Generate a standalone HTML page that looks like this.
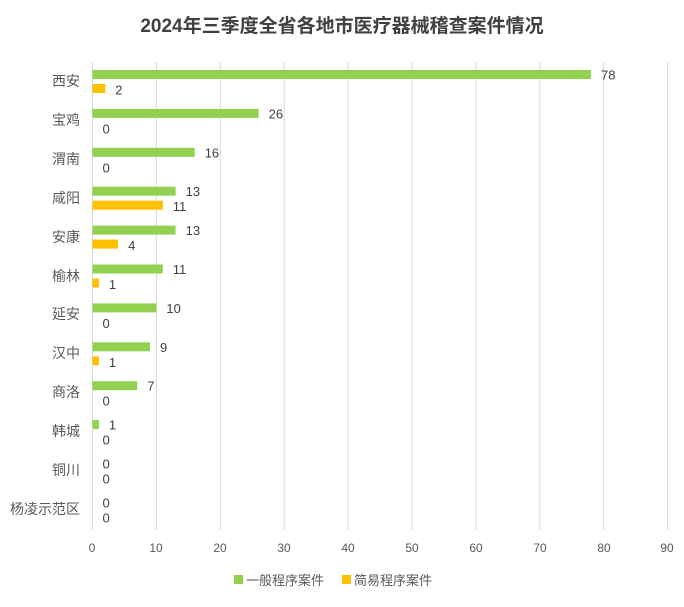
<!DOCTYPE html>
<html><head><meta charset="utf-8"><style>
body{margin:0;background:#fff;}
svg text{font-family:"Liberation Sans","Noto Sans CJK SC",sans-serif;}
</style></head><body>
<svg width="684" height="602" xmlns="http://www.w3.org/2000/svg">
<text x="342" y="32" text-anchor="middle" font-size="19" font-weight="bold" fill="#404040">2024年三季度全省各地市医疗器械稽查案件情况</text>
<g stroke="#d9d9d9" stroke-width="1">
<line x1="156.4" y1="62" x2="156.4" y2="530"/><line x1="220.3" y1="62" x2="220.3" y2="530"/><line x1="284.2" y1="62" x2="284.2" y2="530"/><line x1="348.1" y1="62" x2="348.1" y2="530"/><line x1="412" y1="62" x2="412" y2="530"/><line x1="475.9" y1="62" x2="475.9" y2="530"/><line x1="539.8" y1="62" x2="539.8" y2="530"/><line x1="603.7" y1="62" x2="603.7" y2="530"/><line x1="667.6" y1="62" x2="667.6" y2="530"/>
<line x1="92.5" y1="62" x2="92.5" y2="530"/>
</g>
<g font-size="12" fill="#595959" text-anchor="middle">
<text x="92" y="552">0</text><text x="156" y="552">10</text><text x="220" y="552">20</text><text x="284" y="552">30</text><text x="348" y="552">40</text><text x="412" y="552">50</text><text x="476" y="552">60</text><text x="540" y="552">70</text><text x="604" y="552">80</text><text x="667" y="552">90</text>
</g>
<g font-size="14" fill="#595959" text-anchor="end">
<text x="80" y="86">西安</text><text x="80" y="125">宝鸡</text><text x="80" y="164">渭南</text><text x="80" y="203">咸阳</text><text x="80" y="242">安康</text><text x="80" y="281">榆林</text><text x="80" y="319">延安</text><text x="80" y="358">汉中</text><text x="80" y="397">商洛</text><text x="80" y="436">韩城</text><text x="80" y="475">铜川</text><text x="80" y="514">杨凌示范区</text>
</g>
<g fill="#92d050">
<rect x="92.5" y="70" width="498.4" height="9"/>
<rect x="92.5" y="108.9" width="166.1" height="9"/>
<rect x="92.5" y="147.8" width="102.2" height="9"/>
<rect x="92.5" y="186.7" width="83.1" height="9"/>
<rect x="92.5" y="225.6" width="83.1" height="9"/>
<rect x="92.5" y="264.5" width="70.3" height="9"/>
<rect x="92.5" y="303.4" width="63.9" height="9"/>
<rect x="92.5" y="342.3" width="57.5" height="9"/>
<rect x="92.5" y="381.2" width="44.7" height="9"/>
<rect x="92.5" y="420.1" width="6.4" height="9"/>
</g>
<g fill="#ffc000">
<rect x="92.5" y="84" width="12.8" height="9"/>
<rect x="92.5" y="200.7" width="70.3" height="9"/>
<rect x="92.5" y="239.6" width="25.6" height="9"/>
<rect x="92.5" y="278.5" width="6.4" height="9"/>
<rect x="92.5" y="356.3" width="6.4" height="9"/>
</g>
<g font-size="13" fill="#404040">
<text x="601" y="79.5">78</text><text x="115.3" y="94.5">2</text>
<text x="268.6" y="118.4">26</text><text x="102.5" y="133.4">0</text>
<text x="204.7" y="157.3">16</text><text x="102.5" y="172.3">0</text>
<text x="185.6" y="196.2">13</text><text x="172.8" y="211.2">11</text>
<text x="185.6" y="235.1">13</text><text x="128.1" y="250.1">4</text>
<text x="172.8" y="274">11</text><text x="108.9" y="289">1</text>
<text x="166.4" y="312.9">10</text><text x="102.5" y="327.9">0</text>
<text x="160" y="351.8">9</text><text x="108.9" y="366.8">1</text>
<text x="147.2" y="390.7">7</text><text x="102.5" y="405.7">0</text>
<text x="108.9" y="429.6">1</text><text x="102.5" y="444.6">0</text>
<text x="102.5" y="468.5">0</text><text x="102.5" y="483.5">0</text>
<text x="102.5" y="507.4">0</text><text x="102.5" y="522.4">0</text>
</g>
<rect x="234" y="575" width="9" height="9" fill="#92d050"/>
<text x="246" y="585" font-size="13" fill="#595959">一般程序案件</text>
<rect x="342" y="575" width="9" height="9" fill="#ffc000"/>
<text x="354" y="585" font-size="13" fill="#595959">简易程序案件</text>
</svg>
</body></html>
